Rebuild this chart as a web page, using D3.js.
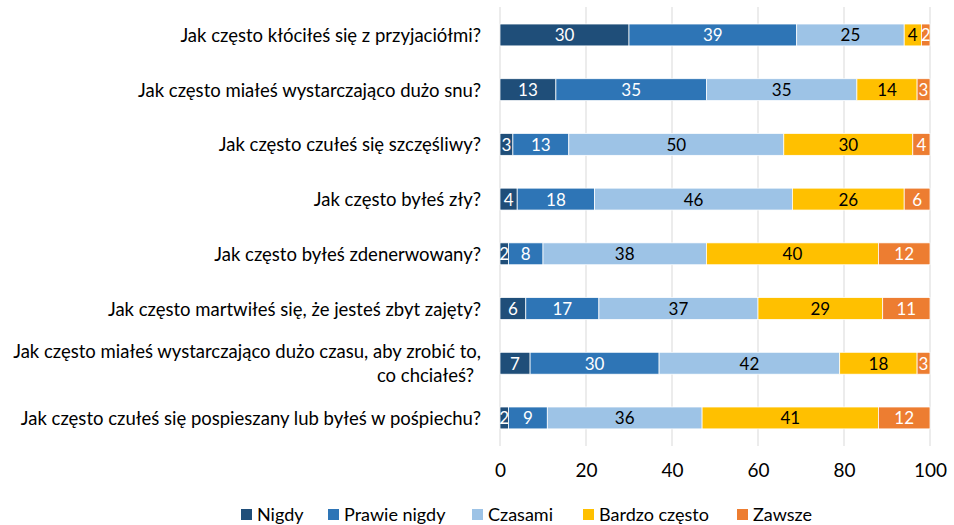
<!DOCTYPE html>
<html><head><meta charset="utf-8">
<script src="https://cdn.jsdelivr.net/npm/d3@7"></script>
<style>body{margin:0;background:#fff}svg{display:block}text{font-family:Lato,"Open Sans",sans-serif}</style>
</head><body><svg id="c" width="954" height="525"></svg>
<script>
const categories = [
  "Jak często kłóciłeś się z przyjaciółmi?",
  "Jak często miałeś wystarczająco dużo snu?",
  "Jak często czułeś się szczęśliwy?",
  "Jak często byłeś zły?",
  "Jak często byłeś zdenerwowany?",
  "Jak często martwiłeś się, że jesteś zbyt zajęty?",
  "Jak często miałeś wystarczająco dużo czasu, aby zrobić to,|co chciałeś?",
  "Jak często czułeś się pospieszany lub byłeś w pośpiechu?"
];
const seriesNames = ["Nigdy","Prawie nigdy","Czasami","Bardzo często","Zawsze"];
const nigdy        = [30,13,3,4,2,6,7,2];
const prawieNigdy  = [39,35,13,18,8,17,30,9];
const czasami      = [25,35,50,46,38,37,42,36];
const bardzoCzesto = [4,14,30,26,40,29,18,41];
const zawsze       = [2,3,4,6,12,11,3,12];
const xTicks = [0,20,40,60,80,100];
const colors = ["#1F4E79","#2E75B6","#9DC3E6","#FFC000","#ED7D31"];
const labelColors = ["#fff","#fff","#000","#000","#fff"];

const series = [nigdy,prawieNigdy,czasami,bardzoCzesto,zawsze];
const svg = d3.select("#c");
const x = d3.scaleLinear().domain([0,100]).range([500,930]);
const y = d3.scaleBand().domain(d3.range(categories.length)).range([7.6,445.3]).paddingInner(0.6).paddingOuter(0.3);

// gridlines
svg.append("g").selectAll("line").data(xTicks).join("line")
  .attr("x1",d=>x(d)).attr("x2",d=>x(d)).attr("y1",7).attr("y2",446)
  .attr("stroke","#d9d9d9").attr("stroke-width",1);

// x axis labels
const ax = svg.append("g").attr("transform","translate(0,446)")
  .call(d3.axisBottom(x).tickValues(xTicks).tickSize(0).tickPadding(18));
ax.select(".domain").remove();
ax.selectAll("text").attr("font-size",19).attr("fill","#000").style("font-family","Lato,sans-serif");

// bars
categories.forEach((cat,i)=>{
  let acc=0;
  const g = svg.append("g");
  series.forEach((s,k)=>{
    const v=s[i], x0=acc; acc+=v;
    g.append("rect").attr("x",x(x0)).attr("width",x(acc)-x(x0))
      .attr("y",y(i)).attr("height",y.bandwidth())
      .attr("fill",colors[k]).attr("stroke","#fff").attr("stroke-width",0.75);
    g.append("text").attr("x",(x(x0)+x(acc))/2).attr("y",y(i)+y.bandwidth()/2)
      .attr("text-anchor","middle").attr("dominant-baseline","central")
      .attr("font-size",17).attr("fill",labelColors[k]).text(v);
  });
  // category label
  const lines = cat.split("|");
  const t = svg.append("text").attr("text-anchor","end").attr("font-size",18.5).attr("fill","#000");
  const cy = y(i)+y.bandwidth()/2;
  const lh = 24;
  lines.forEach((ln,j)=>{
    t.append("tspan").attr("x",j===0?481:474).attr("y",cy+(j-(lines.length-1)/2)*lh).attr("dominant-baseline","central").text(ln);
  });
});

// legend
const legX = [241,328,472,583,737];
const lg = svg.append("g");
seriesNames.forEach((n,k)=>{
  lg.append("rect").attr("x",legX[k]).attr("y",509).attr("width",11).attr("height",11).attr("fill",colors[k]);
  lg.append("text").attr("x",legX[k]+16).attr("y",514).attr("dominant-baseline","central")
    .attr("font-size",18).attr("fill","#000").text(n);
});
</script></body></html>
